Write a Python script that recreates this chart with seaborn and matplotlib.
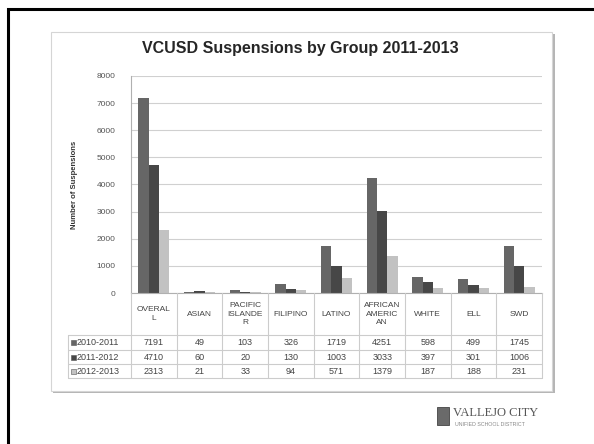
import pandas as pd
import seaborn as sns
import matplotlib.pyplot as plt
from matplotlib.patches import Rectangle
from matplotlib.lines import Line2D

groups = ["OVERALL", "ASIAN", "PACIFIC ISLANDER", "FILIPINO", "LATINO",
          "AFRICAN AMERICAN", "WHITE", "ELL", "SWD"]
group_labels = ["OVERAL\nL", "ASIAN", "PACIFIC\nISLANDE\nR", "FILIPINO", "LATINO",
                "AFRICAN\nAMERIC\nAN", "WHITE", "ELL", "SWD"]
years = ["2010-2011", "2011-2012", "2012-2013"]
susp_2010 = [7191, 49, 103, 326, 1719, 4251, 598, 499, 1745]
susp_2011 = [4710, 60, 20, 130, 1003, 3033, 397, 301, 1006]
susp_2012 = [2313, 21, 33, 94, 571, 1379, 187, 188, 231]
bar_colors = ["#666666", "#474747", "#c2c2c2"]

series = [susp_2010, susp_2011, susp_2012]
df = pd.DataFrame({
    "group": groups * 3,
    "year": [y for y in years for _ in groups],
    "value": susp_2010 + susp_2011 + susp_2012,
})

sns.set_style("white")
plt.rcParams["font.family"] = ["Liberation Sans", "DejaVu Sans"]

W, H = 594, 444
fig = plt.figure(figsize=(W / 100, H / 100), dpi=100)


def fx(x):
    return x / W


def fy(y):
    return 1 - y / H


def hline(x0, x1, y, color="#cccccc", lw=0.8):
    fig.add_artist(Line2D([fx(x0), fx(x1)], [fy(y), fy(y)], color=color, lw=lw))


def vline(x, y0, y1, color="#cccccc", lw=0.8):
    fig.add_artist(Line2D([fx(x), fx(x)], [fy(y0), fy(y1)], color=color, lw=lw))


# slide frame and chart box (kept behind the axes)
fig.add_artist(Rectangle((fx(8), fy(460)), fx(620), fy(9) - fy(460),
                         fill=False, edgecolor="black", lw=2.2, zorder=-5))
fig.add_artist(Rectangle((fx(53), fy(393)), fx(502), fy(34) - fy(393),
                         facecolor="#b5b5b5", edgecolor="none", zorder=-5))
fig.add_artist(Rectangle((fx(51), fy(391)), fx(501), fy(32) - fy(391),
                         facecolor="white", edgecolor="#d5d5d5", lw=0.8, zorder=-4))

# plot area
left, right, top, bottom = 131, 542, 76, 293
ax = fig.add_axes([fx(left), fy(bottom), fx(right - left), fy(top) - fy(bottom)])
ax.patch.set_alpha(0)
sns.barplot(data=df, x="group", y="value", hue="year", order=groups,
            hue_order=years, palette=bar_colors, width=0.68, saturation=1,
            edgecolor="none", legend=False, ax=ax)
ax.set_xlim(-0.5, len(groups) - 0.5)
ax.set_ylim(0, 8000)
ax.set_yticks(range(0, 8001, 1000))
ax.set_yticklabels([str(v) for v in range(0, 8001, 1000)], fontsize=6, color="#555555")
ax.tick_params(axis="y", length=0, pad=11)
ax.set_xticks([])
ax.set_xlabel("")
ax.set_ylabel("")
ax.yaxis.grid(True, color="#d0d0d0", lw=0.8)
ax.set_axisbelow(True)
for s in ["top", "right"]:
    ax.spines[s].set_visible(False)
ax.spines["left"].set_color("#b0b0b0")
ax.spines["bottom"].set_color("#b0b0b0")

fig.text(fx(300), fy(48), "VCUSD Suspensions by Group 2011-2013", ha="center",
         va="center", fontsize=11.5, fontweight="bold")
fig.text(fx(75), fy(185), "Number of Suspensions", rotation=90, ha="center",
         va="center", fontsize=5.5, fontweight="bold", color="#333333")

# data table under the chart
col_w = (right - left) / len(groups)
row_y = [335, 350, 364, 378]
for i in range(len(groups) + 1):
    vline(left + i * col_w, bottom, row_y[-1])
vline(68, row_y[0], row_y[-1])
for y in row_y:
    hline(68, right, y)

for i, lab in enumerate(group_labels):
    fig.text(fx(left + (i + 0.5) * col_w), fy(314), lab, ha="center", va="center",
             fontsize=6, color="#444444", linespacing=1.3)

for r, (yr, vals, c) in enumerate(zip(years, series, bar_colors)):
    yc = (row_y[r] + row_y[r + 1]) / 2
    fig.add_artist(Rectangle((fx(70.5), fy(yc + 2.5)), fx(5), fy(yc - 2.5) - fy(yc + 2.5),
                             facecolor=c, edgecolor="#555555", lw=0.4))
    fig.text(fx(77), fy(yc), yr, ha="left", va="center", fontsize=6.5, color="#444444")
    for i, v in enumerate(vals):
        fig.text(fx(left + (i + 0.5) * col_w), fy(yc), str(v), ha="center",
                 va="center", fontsize=6.5, color="#444444")

# district logo
fig.add_artist(Rectangle((fx(437), fy(425)), fx(12), fy(407) - fy(425),
                         facecolor="#6a6a6a", edgecolor="#444444", lw=0.6))
fig.text(fx(453), fy(413), "VALLEJO CITY", ha="left", va="center", fontsize=9,
         family=["Liberation Serif", "DejaVu Serif"], color="#555555")
fig.text(fx(455), fy(424), "UNIFIED SCHOOL DISTRICT", ha="left", va="center",
         fontsize=3.8, color="#888888")

fig.savefig("out.png", dpi=100)
